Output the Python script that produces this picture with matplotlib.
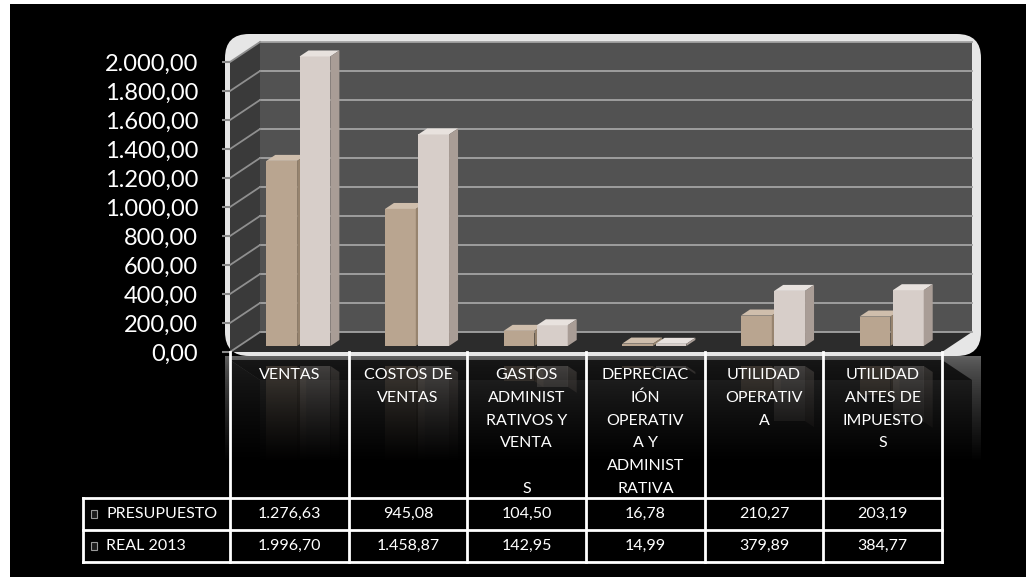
import matplotlib
matplotlib.use("Agg")
import matplotlib.pyplot as plt
import numpy as np
from matplotlib.patches import Polygon, Rectangle, FancyBboxPatch
from matplotlib.lines import Line2D
from matplotlib.transforms import IdentityTransform, ScaledTranslation
from matplotlib.ticker import FuncFormatter

plt.rcParams["font.family"] = ["Lato", "DejaVu Sans"]

# ---- data ----
categorias = [
    "VENTAS",
    "COSTOS DE\nVENTAS",
    "GASTOS\nADMINIST\nRATIVOS Y\nVENTA\n\nS",
    "DEPRECIAC\nIÓN\nOPERATIV\nA Y\nADMINIST\nRATIVA",
    "UTILIDAD\nOPERATIV\nA",
    "UTILIDAD\nANTES DE\nIMPUESTO\nS",
]
presupuesto = [1276.63, 945.08, 104.50, 16.78, 210.27, 203.19]
real_2013 = [1996.70, 1458.87, 142.95, 14.99, 379.89, 384.77]
series_names = ["PRESUPUESTO", "REAL 2013"]
y_ticks = list(range(0, 2001, 200))


def fmt_es(v):
    s = f"{v:,.2f}"
    return s.replace(",", "X").replace(".", ",").replace("X", ".")


W, H = 1026, 577
fig = plt.figure(figsize=(W / 100, H / 100), dpi=100, facecolor="white")
fig.add_artist(Rectangle((10 / W, 0), 1, (H - 4) / H, transform=fig.transFigure,
                         fc="black", ec="none", zorder=-10))

ax = fig.add_axes([230 / W, (H - 352) / H, 712 / W, 290 / H])
ax.set_xlim(-0.5, len(categorias) - 0.5)
ax.set_ylim(0, 2000)
ax.set_autoscale_on(False)
ax.patch.set_visible(False)
for sp in ax.spines.values():
    sp.set_visible(False)
ax.set_xticks([])
ax.set_yticks(y_ticks)
ax.yaxis.set_major_formatter(FuncFormatter(lambda v, p: fmt_es(v)))
ax.tick_params(axis="y", length=6, width=1.5, color="#8a8a8a",
               labelcolor="white", labelsize=17, pad=17)

ID = IdentityTransform()
DX, DY = 30.0, 20.0          # depth offset of the back wall, in pixels
n = len(categorias)
xl_ax, xr_ax = -0.5, n - 0.5


def P(x, y, d=0.0):
    px, py = ax.transData.transform((x, y))
    return (px + d * DX, py + d * DY)


def poly(pts, **kw):
    p = Polygon(pts, closed=True, transform=ID, clip_on=False, ec="none", **kw)
    ax.add_patch(p)
    return p


def line(p0, p1, **kw):
    ln = Line2D([p0[0], p1[0]], [p0[1], p1[1]], transform=ID, clip_on=False, **kw)
    ax.add_line(ln)
    return ln


# ---- frame and walls ----
fx0, fy0 = P(xl_ax, 0)
fx1, fy1 = P(xr_ax, 2000, 1)
f_left, f_bottom = fx0 - 5, fy0 - 4
f_w, f_h = (fx1 + 9) - f_left, (fy1 + 8) - f_bottom
ax.add_patch(FancyBboxPatch((f_left, f_bottom), f_w, f_h,
                            boxstyle="round,pad=0,rounding_size=24",
                            transform=ID, fc="#e6e6e6", ec="none",
                            clip_on=False, zorder=0.3))

back = [P(xl_ax, 0, 1), P(xr_ax, 0, 1), P(xr_ax, 2000, 1), P(xl_ax, 2000, 1)]
left = [P(xl_ax, 0, 0), P(xl_ax, 0, 1), P(xl_ax, 2000, 1), P(xl_ax, 2000, 0)]
floor = [P(xl_ax, 0, 0), P(xr_ax, 0, 0), P(xr_ax, 0, 1), P(xl_ax, 0, 1)]
poly(back, fc="#525252", zorder=0.4)
poly(left, fc="#3a3a3a", zorder=0.4)
poly(floor, fc="#2c2c2c", zorder=0.45)

for t in y_ticks:
    line(P(xl_ax, t, 1), P(xr_ax, t, 1), color="#a3a3a3", lw=1.3, zorder=0.5)
    line(P(xl_ax, t, 0), P(xl_ax, t, 1), color="#8f8f8f", lw=1.3, zorder=0.5)

# ---- bars ----
width = 0.26
offsets = [-0.14, 0.14]
front_c = ["#b9a590", "#d7cec9"]
top_c = ["#cfbeac", "#e8e2de"]
side_c = ["#97846f", "#a99d96"]
d0, d1 = 0.3, 0.6
tr_front = ax.transData + ScaledTranslation(d0 * DX / 100, d0 * DY / 100,
                                            fig.dpi_scale_trans)
ym = f_bottom  # mirror line for the reflection


def mirror(pts):
    return [(x, 2 * ym - y) for x, y in pts]


for s, vals in enumerate([presupuesto, real_2013]):
    xs = np.arange(n) + offsets[s]
    ax.bar(xs, vals, width, color=front_c[s], transform=tr_front,
           zorder=1 + s, clip_on=False)
    for x, v in zip(xs, vals):
        a, b = x - width / 2, x + width / 2
        top = [P(a, v, d0), P(b, v, d0), P(b, v, d1), P(a, v, d1)]
        side = [P(b, 0, d0), P(b, v, d0), P(b, v, d1), P(b, 0, d1)]
        front = [P(a, 0, d0), P(b, 0, d0), P(b, v, d0), P(a, v, d0)]
        poly(top, fc=top_c[s], zorder=1 + s)
        poly(side, fc=side_c[s], zorder=1 + s)
        # reflection below the floor
        poly(mirror(side), fc=side_c[s], zorder=0.07 + 0.001 * s, alpha=0.55)
        poly(mirror(front), fc=front_c[s], zorder=0.07 + 0.001 * s, alpha=0.55)

# reflected frame, walls and floor
ax.add_patch(Rectangle((f_left, ym - f_h), f_w, f_h, transform=ID, fc="#d0d0d0",
                       ec="none", clip_on=False, zorder=0.03, alpha=0.8))
poly(mirror(back), fc="#4a4a4a", zorder=0.04)
poly(mirror(left), fc="#333333", zorder=0.04)
poly(mirror(floor), fc="#2a2a2a", zorder=0.05)

# fade the reflection into the black background
fade_h = 105
nrow = 200
t = np.linspace(0, 1, nrow)
alpha = np.clip(0.4 + 0.6 * t ** 0.7, 0, 1)
grad = np.zeros((nrow, 1, 4))
grad[:, 0, 3] = alpha
ax.imshow(grad, extent=(f_left - 10, f_left + f_w + 30, ym - fade_h, ym),
          transform=ID, aspect="auto", interpolation="bilinear",
          zorder=0.09, clip_on=False)
ax.add_patch(Rectangle((f_left - 10, 0), f_w + 40, ym - fade_h + 1, transform=ID,
                       fc="black", ec="none", clip_on=False, zorder=0.09))

# ---- data table ----
tbl_top = fy0
hdr_bottom = H - 498
row_h = 32
row_bottoms = [hdr_bottom - row_h, hdr_bottom - 2 * row_h]
tbl_bottom = row_bottoms[-1]
lab_left = 83
col_edges = [P(i - 0.5, 0)[0] for i in range(n + 1)]
tl = dict(color="white", lw=2.0, zorder=4, solid_capstyle="projecting")

for xe in col_edges:
    line((xe, tbl_top), (xe, tbl_bottom), **tl)
line((lab_left, hdr_bottom), (lab_left, tbl_bottom), **tl)
for yy in [hdr_bottom, row_bottoms[0], tbl_bottom]:
    line((lab_left, yy), (col_edges[-1], yy), **tl)

txt = dict(color="white", fontsize=11.5, transform=ID, zorder=5, clip_on=False)
for i, lab in enumerate(categorias):
    cx = P(i, 0)[0]
    for k, part in enumerate(lab.split("\n")):
        ax.text(cx, H - 375 - k * 22.8, part, ha="center", va="center", **txt)

for r, (name, vals) in enumerate(zip(series_names, [presupuesto, real_2013])):
    cy = row_bottoms[r] + row_h / 2
    ax.add_patch(Rectangle((lab_left + 8, cy - 4), 6, 8, transform=ID, fc="#1c1c1c",
                           ec="#9a9a9a", lw=0.8, clip_on=False, zorder=5))
    ax.text(lab_left + 23, cy, name, ha="left", va="center", **txt)
    for i, v in enumerate(vals):
        ax.text(P(i, 0)[0], cy, fmt_es(v), ha="center", va="center", **txt)

fig.savefig("out.png", dpi=100, facecolor=fig.get_facecolor())
